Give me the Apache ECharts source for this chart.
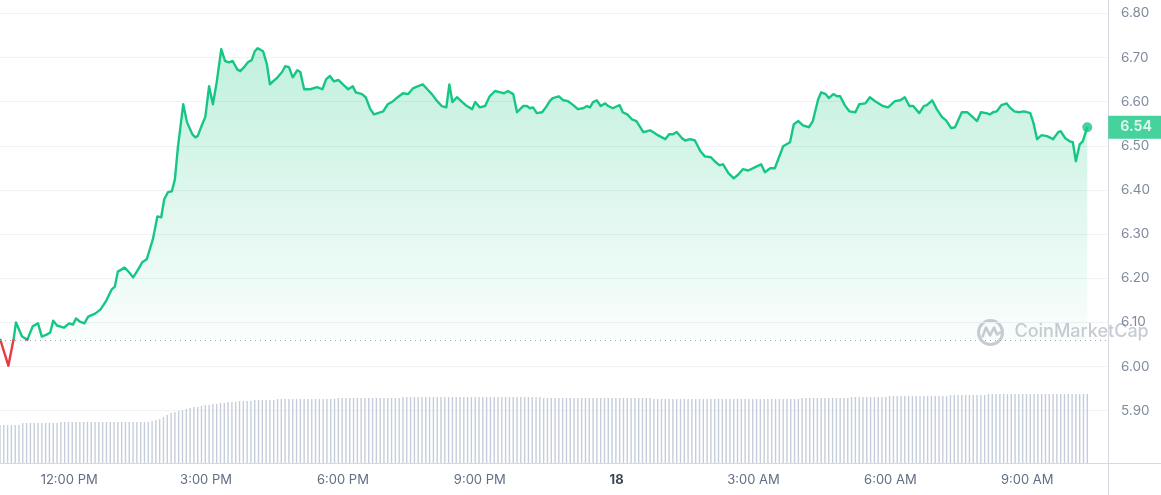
<!DOCTYPE html>
<html>
<head>
<meta charset="utf-8">
<script src="https://cdn.jsdelivr.net/npm/echarts@6/dist/echarts.min.js"></script>
<style>
html,body{margin:0;padding:0;background:#fff;}
#c{width:1161px;height:495px;}
</style>
</head>
<body>
<div id="c"></div>
<script>
// ---- data (times in minutes after the first sample, 10:29 AM on the 17th) ----
const startMinute = 629;
const openPrice = 6.062;
const priceMinutes = [
  0,11,18,21,29,36,43,50,55,62,
  66,70,75,84,91,96,100,105,111,116,
  125,132,139,147,151,155,164,170,175,180,
  187,193,201,207,212,216,221,226,230,234,
  241,246,253,257,260,266,270,272,275,280,
  285,291,296,301,306,312,316,321,326,331,
  335,339,346,351,355,359,364,371,375,380,
  385,391,395,400,408,417,424,429,434,439,
  445,451,458,464,468,476,481,487,492,497,
  504,510,517,523,530,537,543,550,556,562,
  568,575,581,587,591,595,601,608,614,621,
  625,631,638,644,651,658,663,668,675,680,
  688,693,697,701,706,713,718,723,727,735,
  741,747,754,760,767,772,776,780,785,790,
  796,800,806,812,815,819,825,831,837,842,
  846,851,855,859,865,875,880,885,890,897,
  901,908,914,921,927,935,940,946,951,958,
  965,971,977,984,990,996,1001,1006,1013,1019,
  1025,1030,1039,1044,1050,1056,1064,1069,1076,1080,
  1086,1090,1096,1101,1105,1111,1117,1125,1130,1138,
  1144,1151,1161,1168,1177,1184,1190,1196,1201,1209,
  1215,1219,1226,1232,1239,1244,1251,1256,1265,1272,
  1278,1285,1290,1297,1302,1306,1311,1317,1324,1328,
  1334,1340,1347,1355,1359,1364,1370,1377,1385,1392,
  1395,1401,1407,1411,1415,1420,1424,1430
];
const prices = [
  6.063,6.002,6.063,6.100,6.068,6.061,6.091,6.098,6.068,6.073,
  6.077,6.104,6.093,6.088,6.098,6.095,6.109,6.102,6.098,6.113,
  6.120,6.129,6.147,6.175,6.181,6.215,6.224,6.213,6.202,6.215,
  6.236,6.243,6.288,6.340,6.338,6.379,6.395,6.397,6.424,6.497,
  6.594,6.553,6.526,6.519,6.522,6.549,6.565,6.567,6.635,6.594,
  6.644,6.719,6.692,6.689,6.692,6.673,6.669,6.678,6.689,6.694,
  6.714,6.721,6.714,6.685,6.639,6.646,6.653,6.667,6.680,6.678,
  6.655,6.671,6.667,6.628,6.628,6.633,6.628,6.651,6.658,6.646,
  6.649,6.639,6.628,6.635,6.621,6.617,6.610,6.583,6.571,6.574,
  6.578,6.594,6.601,6.610,6.619,6.617,6.630,6.635,6.639,6.628,
  6.617,6.601,6.590,6.587,6.639,6.599,6.610,6.599,6.590,6.583,
  6.599,6.587,6.590,6.612,6.624,6.621,6.619,6.624,6.617,6.576,
  6.590,6.590,6.585,6.587,6.574,6.576,6.587,6.601,6.608,6.612,
  6.603,6.601,6.592,6.583,6.585,6.590,6.587,6.599,6.603,6.590,
  6.596,6.590,6.585,6.590,6.592,6.576,6.571,6.560,6.556,6.542,
  6.531,6.533,6.535,6.531,6.524,6.515,6.526,6.526,6.531,6.517,
  6.512,6.515,6.512,6.488,6.476,6.474,6.465,6.456,6.458,6.438,
  6.426,6.435,6.447,6.444,6.449,6.454,6.458,6.440,6.449,6.449,
  6.476,6.499,6.508,6.549,6.556,6.546,6.542,6.556,6.605,6.621,
  6.617,6.608,6.617,6.612,6.612,6.592,6.578,6.576,6.594,6.596,
  6.610,6.601,6.590,6.587,6.601,6.603,6.610,6.590,6.590,6.574,
  6.590,6.592,6.603,6.583,6.565,6.558,6.540,6.542,6.576,6.576,
  6.567,6.556,6.576,6.574,6.571,6.576,6.578,6.592,6.596,6.587,
  6.578,6.576,6.578,6.574,6.553,6.515,6.524,6.522,6.515,6.531,
  6.533,6.517,6.510,6.508,6.465,6.503,6.510,6.542
];
// 24h volume, one bar every 5 minutes (millions)
const volumeStepMinutes = 5;
const volumes = [
  38,38,38,38,38,38,40,40,40,40,
  40,40,40,40,40,40,41,41,41,41,
  41,41,41,41,41,41,41,41,41,41,
  41,41,41,41,41,41,41,41,41,41,
  42,43,44,46,48,50,51,52,53,54,
  55,56,56,57,58,58,59,59,60,60,
  61,61,61,62,62,62,62,63,63,63,
  63,63,63,64,64,64,64,64,64,64,
  64,64,64,64,64,64,64,64,64,65,
  65,65,65,65,65,65,65,65,65,65,
  65,65,65,65,65,65,66,66,66,66,
  66,66,66,66,66,66,66,66,66,66,
  66,66,66,66,66,66,66,66,66,66,
  66,66,66,66,66,66,66,66,66,66,
  66,66,66,65,65,65,65,65,65,65,
  65,65,65,65,65,65,65,65,65,65,
  65,65,65,65,65,65,65,65,65,65,
  65,65,64,64,64,64,64,64,64,64,
  64,64,64,64,64,64,64,64,64,64,
  64,64,64,64,64,64,64,64,64,64,
  64,64,64,64,64,64,64,64,64,64,
  64,65,65,65,65,65,65,65,65,65,
  65,65,65,65,66,66,66,66,66,66,
  66,66,66,66,67,67,67,67,67,67,
  67,67,67,67,67,67,67,67,67,67,
  68,68,68,68,68,68,68,68,68,68,
  69,69,69,69,69,69,69,69,69,69,
  69,69,69,69,69,69,69,69,69,69,
  69,69,69,69,69,69,69
];
const xTickMinutes = [720, 900, 1080, 1260, 1440, 1620, 1800, 1980];
const xTickLabels = ['12:00 PM', '3:00 PM', '6:00 PM', '9:00 PM', '18', '3:00 AM', '6:00 AM', '9:00 AM'];

// ---- build ----
const GREEN = '#16c784', RED = '#ea3943';
const priceData = prices.map((p, i) => [startMinute + priceMinutes[i], p]);
const volumeData = volumes.map((v, i) => [startMinute + i * volumeStepMinutes, v]);
const last = priceData[priceData.length - 1];
const FONT = 'Inter, "Noto Sans", sans-serif';
const MIN_PER_PX = 1.3152;   // horizontal scale shared by both grids
const priceGridWidth = 1108, fullWidth = 1161;

const chart = echarts.init(document.getElementById('c'), null, {renderer: 'canvas'});
chart.setOption({
  animation: false,
  backgroundColor: '#fff',
  textStyle: {fontFamily: FONT},
  grid: [
    {left: 0, right: fullWidth - priceGridWidth, top: 13.3, bottom: 40.1},
    {left: 0, right: 0, top: 313, bottom: 32},
    {left: 0, right: fullWidth - priceGridWidth, top: 0, bottom: 0}
  ],
  xAxis: [
    {type: 'value', gridIndex: 0, min: startMinute, max: startMinute + priceGridWidth * MIN_PER_PX, show: false},
    {type: 'value', gridIndex: 1, min: startMinute, max: startMinute + fullWidth * MIN_PER_PX,
      axisLine: {show: true, onZero: false, lineStyle: {color: '#d5dae2', width: 1}},
      axisTick: {show: false},
      splitLine: {show: false},
      axisLabel: {
        customValues: xTickMinutes,
        margin: 11,
        fontSize: 13,
        color: '#616e85',
        fontFamily: FONT,
        formatter: function (v) {
          const i = xTickMinutes.indexOf(v);
          if (i < 0) return '';
          return xTickLabels[i] === '18' ? '{b|18}' : xTickLabels[i];
        },
        rich: {b: {fontWeight: 'bold', color: '#3d4656', fontSize: 13, fontFamily: FONT}}
      }
    },
    {type: 'value', gridIndex: 2, min: 0, max: 1, show: false}
  ],
  yAxis: [
    {type: 'value', gridIndex: 0, position: 'right', min: 5.8, max: 6.8, interval: 0.1,
      axisLine: {show: false}, axisTick: {show: false},
      splitLine: {show: true, showMinLine: false, lineStyle: {color: '#f0f2f5', width: 1}},
      axisLabel: {showMinLabel: false, margin: 13, fontSize: 13.5, color: '#808a9d', fontFamily: FONT,
        formatter: v => v.toFixed(2)}
    },
    {type: 'value', gridIndex: 1, min: 0, max: 150, show: false},
    {type: 'value', gridIndex: 2, position: 'right', min: 0, max: 1,
      axisLine: {show: true, onZero: false, lineStyle: {color: '#d5dae2', width: 1}},
      axisTick: {show: false}, axisLabel: {show: false}, splitLine: {show: false}}
  ],
  visualMap: {
    type: 'piecewise', show: false, seriesIndex: 0, dimension: 1,
    pieces: [{gte: 5.0, lt: openPrice, color: RED}, {gte: openPrice, lte: 8.0, color: GREEN}]
  },
  graphic: [{
    type: 'group', left: 976, top: 318, silent: true, z: 1,
    children: [
      {type: 'circle', shape: {cx: 14, cy: 14, r: 12}, style: {fill: 'none', stroke: '#c7ccd4', lineWidth: 3}},
      {type: 'polyline', shape: {points: [[6, 18], [9.5, 9], [13.5, 17], [17.5, 9], [20.5, 16], [23.5, 14]]},
        style: {fill: 'none', stroke: '#c7ccd4', lineWidth: 2.6, lineJoin: 'round', lineCap: 'round'}},
      {type: 'text', x: 38, y: 4, style: {text: 'CoinMarketCap', fill: '#c7ccd4', font: '500 18px ' + FONT}}
    ]
  }],
  series: [
    {
      type: 'line', xAxisIndex: 0, yAxisIndex: 0, data: priceData,
      showSymbol: false, z: 3,
      lineStyle: {width: 2.4, join: 'round'},
      areaStyle: {
        origin: openPrice,
        color: new echarts.graphic.LinearGradient(0, 0, 0, 1, [
          {offset: 0, color: 'rgba(22,199,132,0.38)'},
          {offset: 1, color: 'rgba(22,199,132,0.0)'}
        ])
      },
      markLine: {
        silent: true, symbol: 'none', label: {show: false},
        lineStyle: {color: '#9aa3b2', width: 1, type: [1, 4]},
        data: [{yAxis: openPrice}]
      }
    },
    {
      type: 'scatter', xAxisIndex: 0, yAxisIndex: 0, data: [last], z: 5,
      symbol: 'circle', symbolSize: 10, itemStyle: {color: GREEN},
      label: {
        show: true, position: 'right', distance: 16,
        formatter: p => p.value[1].toFixed(2),
        backgroundColor: GREEN, color: '#fff', fontWeight: 'bold', fontSize: 14, fontFamily: FONT,
        lineHeight: 14, padding: [5, 12, 4, 12]
      }
    },
    {
      type: 'bar', xAxisIndex: 1, yAxisIndex: 1, data: volumeData,
      barWidth: 1.4, itemStyle: {color: '#c5cddb'}, z: 1
    }
  ]
});
</script>
</body>
</html>
